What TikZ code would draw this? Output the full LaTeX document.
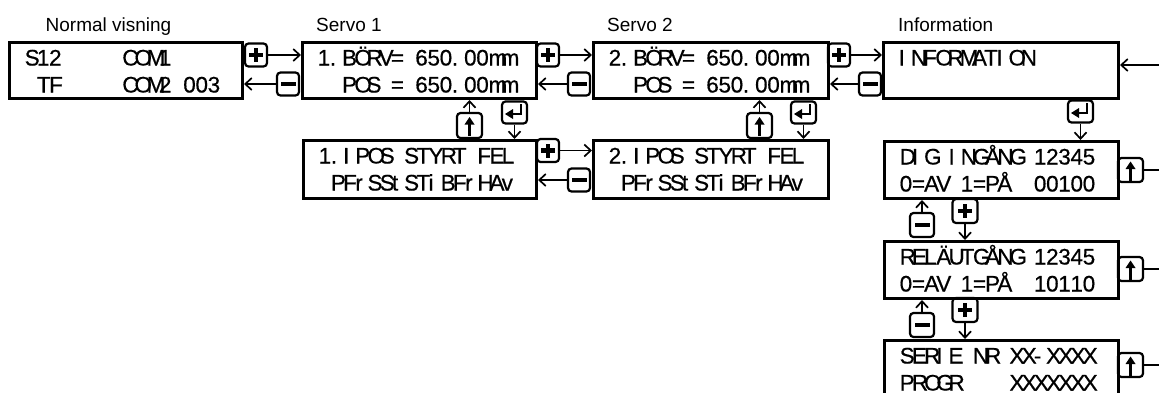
\documentclass[tikz,border=0pt]{standalone}
\usepackage{fontspec}
\setmainfont{Liberation Sans}
\newfontfamily\lcdfam[FakeBold=0.5]{Liberation Sans}
\usetikzlibrary{arrows.meta,calc}
\newdimen\lcdcell \lcdcell=12.2pt
\ExplSyntaxOn
\NewDocumentCommand\lcd{m}{
  \str_map_inline:nn {#1} {
    \str_if_eq:nnTF {##1} {_} {\makebox[\lcdcell]{}} {\makebox[\lcdcell][l]{##1}}
  }
}
\ExplSyntaxOff
\newcommand\lcdfont{\lcdfam\fontsize{22.5pt}{26pt}\selectfont}
\newcommand\lblfont{\fontsize{19pt}{22pt}\selectfont}
\tikzset{
  lcdbox/.style={draw, line width=3pt, inner sep=0pt, anchor=north west},
  btn/.style={draw, line width=2.2pt, rounded corners=3.5pt, inner sep=0pt},
  arr/.style={line width=1.7pt, -{Straight Barb[length=6.5pt,width=12pt,line width=1.7pt]}},
  conn/.style={line width=1.7pt},
  lcdtext/.style={anchor=base west, inner sep=0pt, font=\lcdfont},
  lbl/.style={anchor=base west, inner sep=0pt, font=\lblfont},
}
\newcommand\lcdbox[7]{%
  \node[lcdbox, minimum width=#4pt, minimum height=#5pt] (#1) at (#2,#3) {};
  \node[lcdtext] (#1a) at ($(#1.north west)+(16.5,24.5)$) {\lcd{#6}};
  \node[lcdtext] (#1b) at ($(#1.north west)+(16.5,51.5)$) {\lcd{#7}};}
\newcommand\symplus[1]{\fill ($(#1)+(-7,-2.2)$) rectangle ($(#1)+(7,2.2)$);
  \fill ($(#1)+(-2.2,-7)$) rectangle ($(#1)+(2.2,7)$);}
\newcommand\symminus[1]{\fill ($(#1)+(-7.5,-2.3)$) rectangle ($(#1)+(7.5,2.3)$);}
\newcommand\symup[1]{\fill ($(#1)+(0,-8.5)$) -- ($(#1)+(5,-1)$) -- ($(#1)+(-5,-1)$) -- cycle;
  \draw[line width=2.2pt] ($(#1)+(0,-1.5)$) -- ($(#1)+(0,10.5)$);}
\newcommand\symenter[1]{\fill ($(#1)+(-9.5,1.5)$) -- ($(#1)+(-1.5,-3.5)$) -- ($(#1)+(-1.5,6.5)$) -- cycle;
  \draw[line width=2.6pt] ($(#1)+(-2,1.5)$) -- ($(#1)+(6.5,1.5)$) -- ($(#1)+(6.5,-8.5)$);}
\newcommand\btn[6]{\node[btn, minimum width=#4pt, minimum height=#5pt] (#1) at (#2,#3) {}; #6{#1}}
\begin{document}
\begin{tikzpicture}[x=1pt,y=-1pt]
\useasboundingbox (0,0) rectangle (1159,392);
\clip (0,0) rectangle (1159,392);
% labels
\node[lbl] (l1) at (45.5,31) {Normal visning};
\node[lbl] (l2) at (316,31) {Servo 1};
\node[lbl] (l3) at (607,31) {Servo 2};
\node[lbl] (l4) at (898,31) {Information};
% boxes
\lcdbox{b1}{8}{41}{233}{56}{S12_____COM1}{_TF_____COM2_003}
\lcdbox{b2}{301}{41}{234}{56}{1.BÖRV=_650.00mm}{__POS_=_650.00mm}
\lcdbox{b3}{592}{41}{235}{56}{2.BÖRV=_650.00mm}{__POS_=_650.00mm}
\lcdbox{b4}{882}{41}{235}{56}{INFORMATION}{}
\lcdbox{b5}{302}{139}{233}{58}{1.IPOS_STYRT_FEL}{_PFrSStSTiBFrHAv}
\lcdbox{b6}{592}{139}{235}{58}{2.IPOS_STYRT_FEL}{_PFrSStSTiBFrHAv}
\lcdbox{b7}{883}{140}{234}{57}{DIG_INGÅNG_12345}{0=AV_1=PÅ__00100}
\lcdbox{b8}{883}{240}{234}{57}{RELÄUTGÅNG_12345}{0=AV_1=PÅ__10110}
\lcdbox{b9}{883}{339}{234}{57}{SERIE_NR_XX-XXXX}{PROGR____XXXXXXX}
% buttons row 1
\btn{p1}{256}{55}{22}{23}{\symplus}
\btn{m1}{288}{84}{22}{23}{\symminus}
\btn{p2}{548}{55}{22}{23}{\symplus}
\btn{m2}{579}{84}{22}{23}{\symminus}
\btn{p3}{839}{55}{22}{23}{\symplus}
\btn{m3}{870}{84}{22}{23}{\symminus}
% row 2
\btn{u5}{469.5}{125.5}{25}{25}{\symup}
\btn{e5}{514.5}{112.5}{25}{22}{\symenter}
\btn{u6}{759.5}{125.5}{25}{25}{\symup}
\btn{e6}{803.5}{112.5}{25}{22}{\symenter}
\btn{p5}{548}{150.5}{22}{23}{\symplus}
\btn{m5}{579}{180}{22}{23}{\symminus}
% info column
\btn{e7}{1080.5}{111.5}{25}{22}{\symenter}
\btn{u7}{1130.5}{170}{25}{24}{\symup}
\btn{m7}{922}{225}{24}{24}{\symminus}
\btn{p7}{965}{211}{25}{24}{\symplus}
\btn{u8}{1130.5}{269}{25}{24}{\symup}
\btn{m8}{922}{325}{24}{24}{\symminus}
\btn{p8}{965}{310}{25}{24}{\symplus}
\btn{u9}{1130.5}{365}{25}{24}{\symup}
% connectors
\coordinate (rin) at (1159,65);
\coordinate (rx) at (1159,0);
\draw[arr] (p1.east) -- (p1.east -| b2.west);
\draw[arr] (m1.west) -- (m1.west -| b1.east);
\draw[arr] (p2.east) -- (p2.east -| b3.west);
\draw[arr] (m2.west) -- (m2.west -| b2.east);
\draw[arr] (p3.east) -- (p3.east -| b4.west);
\draw[arr] (m3.west) -- (m3.west -| b3.east);
\draw[arr] (rin) -- (rin -| b4.east);
\draw[arr] (u5.north) -- (u5.north |- b2.south);
\draw[arr] (e5.south) -- (e5.south |- b5.north);
\draw[arr] (u6.north) -- (u6.north |- b3.south);
\draw[arr] (e6.south) -- (e6.south |- b6.north);
\draw[arr] (p5.east) -- (p5.east -| b6.west);
\draw[arr] (m5.west) -- (m5.west -| b5.east);
\draw[arr] (e7.south) -- (e7.south |- b7.north);
\draw[arr] (m7.north) -- (m7.north |- b7.south);
\draw[arr] (p7.south) -- (p7.south |- b8.north);
\draw[arr] (m8.north) -- (m8.north |- b8.south);
\draw[arr] (p8.south) -- (p8.south |- b9.north);
\draw[conn] (u7.east) -- (u7.east -| rx);
\draw[conn] (u8.east) -- (u8.east -| rx);
\draw[conn] (u9.east) -- (u9.east -| rx);
\end{tikzpicture}
\end{document}
